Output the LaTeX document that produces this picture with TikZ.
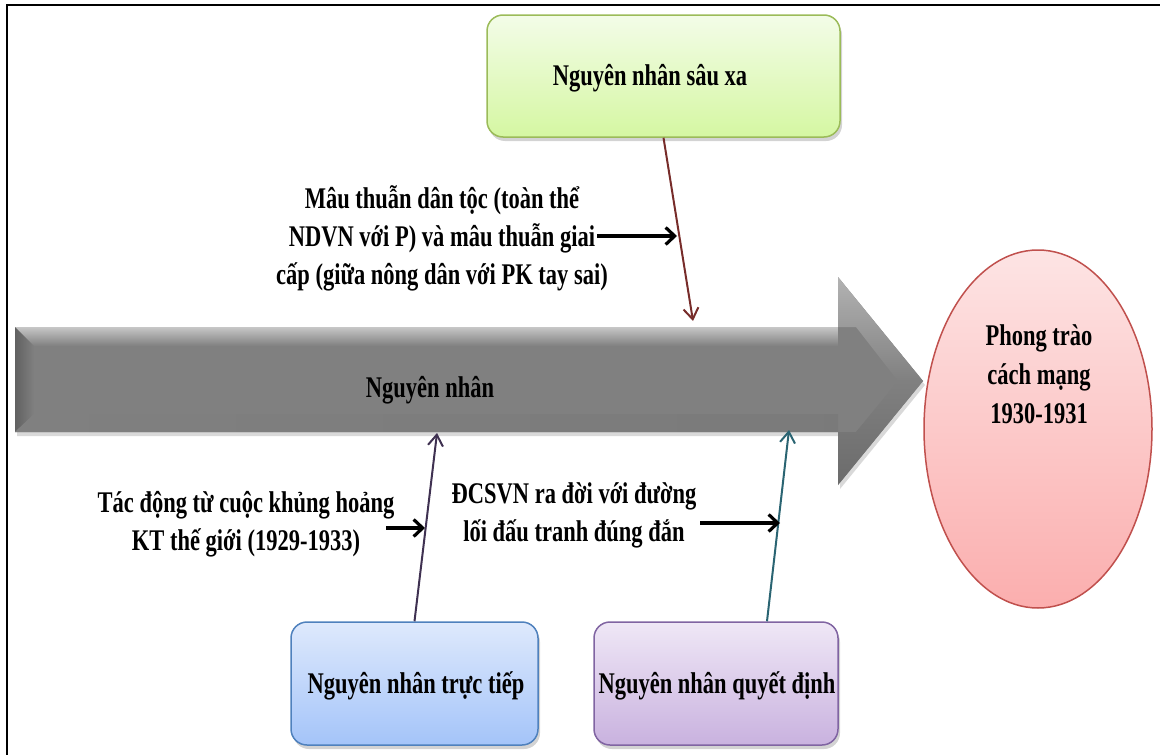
\documentclass[tikz,border=0pt]{standalone}
\usepackage{fontspec}
\setmainfont{Liberation Serif}[FakeStretch=0.75]
\usetikzlibrary{shapes.geometric,arrows.meta,shadows}

\definecolor{GreenLine}{HTML}{9BBB59}
\definecolor{GreenTop}{HTML}{F3FCE8}
\definecolor{GreenBot}{HTML}{D5F7A2}
\definecolor{BlueLine}{HTML}{4F81BD}
\definecolor{BlueTop}{HTML}{DEE9FC}
\definecolor{BlueBot}{HTML}{A4C4F9}
\definecolor{PurpLine}{HTML}{8064A2}
\definecolor{PurpTop}{HTML}{EFE7F6}
\definecolor{PurpBot}{HTML}{C9B2DF}
\definecolor{RedLine}{HTML}{C0504D}
\definecolor{RedTop}{HTML}{FDE4E4}
\definecolor{RedBot}{HTML}{FBAEAE}
\definecolor{Brown}{HTML}{772C2A}
\definecolor{Plum}{HTML}{3F3151}
\definecolor{Teal}{HTML}{2A6472}
\definecolor{Steel}{HTML}{808080}

\begin{document}
\begin{tikzpicture}[x=1pt,y=-1pt,
  boxbase/.style={rounded corners=16pt, line width=1.5pt,
    drop shadow={opacity=0.35, shadow xshift=2pt, shadow yshift=-4pt}},
  greenbox/.style={boxbase, draw=GreenLine, top color=GreenTop, bottom color=GreenBot},
  bluebox/.style={boxbase, draw=BlueLine, top color=BlueTop, bottom color=BlueBot},
  purplebox/.style={boxbase, draw=PurpLine, top color=PurpTop, bottom color=PurpBot},
  goal/.style={ellipse, line width=1.5pt, draw=RedLine, top color=RedTop, bottom color=RedBot},
  boxtext/.style={font=\bfseries\fontsize{30}{39}\selectfont, align=center, inner sep=0pt},
  labeltext/.style={font=\bfseries\fontsize{30}{38}\selectfont, align=center, inner sep=0pt},
  link/.style={line width=2pt, -{Straight Barb[length=11pt,width=15pt]}},
  pointer/.style={line width=3.2pt, -{Straight Barb[length=9pt,width=17pt]}},
]
\useasboundingbox (0,0) rectangle (1160,755);

% frame on the left and top edges
\draw[line width=2.2pt] (7,755) -- (7,5) -- (1160,5);

% big grey arrow
\fill[Steel, drop shadow={opacity=0.3, shadow xshift=2pt, shadow yshift=-4pt}]
  (15,327) -- (838,327) -- (838,277) -- (923,381) -- (838,485) -- (838,432) -- (15,432) -- cycle;
\shade[top color=black!22, bottom color=Steel]
  (15,327) -- (838,327) -- (838,346) -- (34,346) -- cycle;
\shade[left color=black!62, right color=Steel]
  (15,327) -- (34,346) -- (34,414) -- (15,432) -- cycle;
\shade[left color=Steel, right color=black!52]
  (15,432) -- (34,414) -- (838,414) -- (838,432) -- cycle;
\shade[top color=black!30, bottom color=Steel]
  (838,277) -- (923,381) -- (898,381) -- (856,327) -- (838,327) -- cycle;
\shade[top color=Steel, bottom color=black!58]
  (838,485) -- (923,381) -- (898,381) -- (856,432) -- (838,432) -- cycle;
\node[boxtext] (cause) at (430,390) {Nguyên nhân};

% boxes
\node[greenbox, minimum width=353pt, minimum height=122pt] (deep) at (663.5,76) {};
\node[boxtext] (deeptxt) at (650,78) {Nguyên nhân sâu xa};

\node[bluebox, minimum width=247pt, minimum height=123pt] (direct) at (414.5,683.5) {};
\node[boxtext] (directtxt) at (416,686) {Nguyên nhân trực tiếp};

\node[purplebox, minimum width=244pt, minimum height=123pt] (decisive) at (716,683.5) {};
\node[boxtext] (decisivetxt) at (717,686) {Nguyên nhân quyết định};

% result ellipse
\node[goal, minimum width=228pt, minimum height=358pt] (movement) at (1038,429) {};
\node[boxtext] (movementtxt) at (1039,374) {Phong trào\\cách mạng\\1930-1931};

% labels
\node[labeltext] (conflict) at (442,238)
  {Mâu thuẫn dân tộc (toàn thể\\NDVN với P) và mâu thuẫn giai\\cấp (giữa nông dân với PK tay sai)};
\node[labeltext] (crisis) at (246,524) {Tác động từ cuộc khủng hoảng\\KT thế giới (1929-1933)};
\node[labeltext] (party) at (574,515) {ĐCSVN ra đời với đường\\lối đấu tranh đúng đắn};

% connectors into the arrow
\coordinate (deepEnd) at (693,321);
\coordinate (directEnd) at (437,433);
\coordinate (decisiveEnd) at (789,430);
\draw[link, draw=Brown] (deep.south) -- (deepEnd);
\draw[link, draw=Plum] (direct.north) -- (directEnd);
\draw[link, draw=Teal] ([xshift=51pt]decisive.north) -- (decisiveEnd);

% pointers from the labels
\coordinate (conflictFrom) at (597,236);
\coordinate (conflictTo) at (677,236);
\coordinate (crisisFrom) at (386,528);
\coordinate (crisisTo) at (425,528);
\coordinate (partyFrom) at (700,523);
\coordinate (partyTo) at (780,523);
\draw[pointer] (conflictFrom) -- (conflictTo);
\draw[pointer] (crisisFrom) -- (crisisTo);
\draw[pointer] (partyFrom) -- (partyTo);
\end{tikzpicture}
\end{document}
